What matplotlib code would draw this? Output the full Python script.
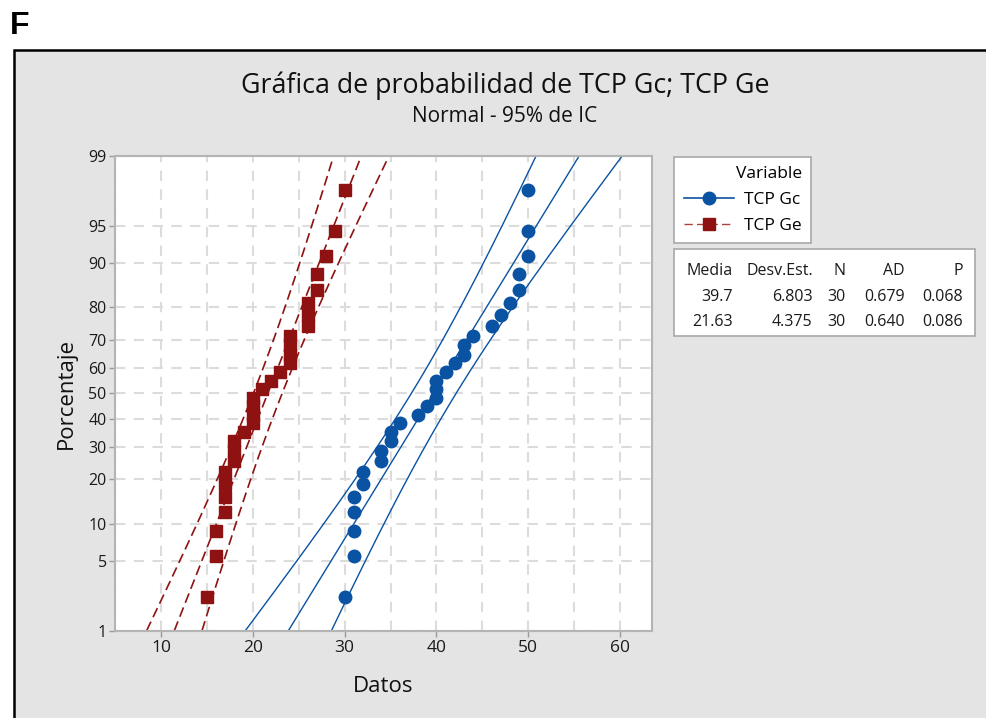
import numpy as np
import matplotlib
matplotlib.use('Agg')
import matplotlib.pyplot as plt
from matplotlib.lines import Line2D
from matplotlib.patches import Rectangle
from statistics import NormalDist

plt.rcParams['font.family'] = ['Open Sans', 'DejaVu Sans']

# datos (30 valores por variable)
series = ['TCP Gc', 'TCP Ge']
tcp_gc = [30, 31, 31, 31, 31, 32, 32, 34, 34, 35, 35, 36, 38, 39, 40,
          40, 40, 41, 42, 43, 43, 44, 46, 47, 48, 49, 49, 50, 50, 50]
tcp_ge = [15, 16, 16, 17, 17, 17, 17, 18, 18, 18, 19, 20, 20, 20, 20,
          21, 22, 23, 24, 24, 24, 24, 26, 26, 26, 27, 27, 28, 29, 30]
colors = ['#0a52a2', '#8e1212']
markers = ['o', 's']

stat_cols = ['Media', 'Desv.Est.', 'N', 'AD', 'P']
stat_rows = [['39.7', '6.803', '30', '0.679', '0.068'],
             ['21.63', '4.375', '30', '0.640', '0.086']]

y_ticks = [1, 5, 10, 20, 30, 40, 50, 60, 70, 80, 90, 95, 99]
x_ticks = [10, 20, 30, 40, 50, 60]

nd = NormalDist()
_ppf = np.vectorize(nd.inv_cdf, otypes=[float])
_cdf = np.vectorize(nd.cdf, otypes=[float])


def to_z(p):
    p = np.clip(np.asarray(p, dtype=float) / 100.0, 1e-9, 1 - 1e-9)
    return _ppf(p)


def from_z(z):
    return _cdf(np.asarray(z, dtype=float)) * 100.0


fig = plt.figure(figsize=(9.87, 7.18), dpi=100)

# fondo, marco y textos fijos
bg = fig.add_axes([0, 0, 1, 1], zorder=-1)
bg.set_xlim(0, 987)
bg.set_ylim(718, 0)
bg.axis('off')
bg.add_patch(Rectangle((13.5, 50), 1000, 700, facecolor='#e4e4e4', edgecolor='black', lw=1.8))
bg.text(10, 26, 'F', fontsize=23, fontweight='bold', family='Liberation Sans', va='center', ha='left')
bg.text(505, 86, 'Gráfica de probabilidad de TCP Gc; TCP Ge', fontsize=19.3, ha='center', va='center', color='#111111')
bg.text(505, 117, 'Normal - 95% de IC', fontsize=15, ha='center', va='center', color='#111111')

# tabla de estadisticos
bg.add_patch(Rectangle((674, 249.3), 301, 86.4, facecolor='white', edgecolor='#a8a8a8', lw=1.2))
col_right = [733, 812.7, 845.7, 905, 962.7]
row_y = [271, 297, 321.5]
for j, name in enumerate(stat_cols):
    bg.text(col_right[j], row_y[0], name, fontsize=11.5, ha='right', va='center', color='#1a1a1a')
    for i, row in enumerate(stat_rows):
        bg.text(col_right[j], row_y[i + 1], row[j], fontsize=11.5, ha='right', va='center', color='#1a1a1a')

ax = fig.add_axes([115 / 987, 1 - 630.7 / 718, (651.7 - 115) / 987, (630.7 - 156) / 718])
ax.set_facecolor('white')

z_grid = np.linspace(float(to_z(1)), float(to_z(99)), 300)
p_grid = from_z(z_grid)

for data, c, m, name in zip([tcp_gc, tcp_ge], colors, markers, series):
    xs = np.sort(np.array(data, dtype=float))
    n = len(xs)
    pct = (np.arange(1, n + 1) - 0.3) / (n + 0.4) * 100
    mu = xs.mean()
    sd = xs.std(ddof=1)
    fit = mu + sd * z_grid
    half = 1.96 * sd * np.sqrt(1.0 / n + z_grid ** 2 / (2.0 * n))
    for xl in (fit - half, fit, fit + half):
        if m == 'o':
            ax.plot(xl, p_grid, color=c, lw=1.0, zorder=2)
        else:
            ax.plot(xl, p_grid, color=c, lw=1.2, dashes=(6, 3), zorder=2)
    ax.plot(xs, pct, ls='none', marker=m, ms=9, color=c, zorder=3)

ax.set_yscale('function', functions=(to_z, from_z))
ax.set_ylim(1, 99)
ax.set_xlim(5.31, 63.43)
ax.set_yticks(y_ticks)
ax.set_yticklabels([str(t) for t in y_ticks])
ax.yaxis.set_minor_locator(matplotlib.ticker.NullLocator())
ax.set_xticks(x_ticks)
ax.set_xticks(np.arange(5, 65, 10), minor=True)
ax.grid(True, which='both', color='#dcdcdc', lw=1.5, dashes=(5, 4))
ax.set_axisbelow(True)
ax.tick_params(axis='both', which='major', colors='#9a9a9a', labelcolor='#1a1a1a', length=4, width=1, pad=3)
ax.tick_params(axis='x', which='minor', length=0)
ax.tick_params(axis='y', labelsize=11.5, pad=2)
ax.tick_params(axis='x', labelsize=12.5)
for s in ax.spines.values():
    s.set_color('#b4b4b4')
    s.set_linewidth(1.5)

ax.set_xlabel('Datos', fontsize=16, color='#111111', labelpad=14)
ax.set_ylabel('Porcentaje', fontsize=16, color='#111111', labelpad=8)

handles = [Line2D([], [], color=colors[0], marker='o', ms=9, lw=1.2),
           Line2D([], [], color='#b04040', marker='s', ms=9, mfc=colors[1], mec=colors[1],
                  lw=1.0, dashes=(6, 3))]
leg = fig.legend(handles, series, title='Variable', loc='upper left',
                 bbox_to_anchor=(674 / 987, 1 - 156.7 / 718), alignment='right',
                 frameon=True, fancybox=False, edgecolor='#a8a8a8', framealpha=1,
                 fontsize=12.5, title_fontsize=12.5, handlelength=2.9, handletextpad=0.6,
                 borderpad=0.55, labelspacing=0.55, borderaxespad=0)
leg.get_frame().set_linewidth(1.2)

fig.savefig('out.png', dpi=100)
